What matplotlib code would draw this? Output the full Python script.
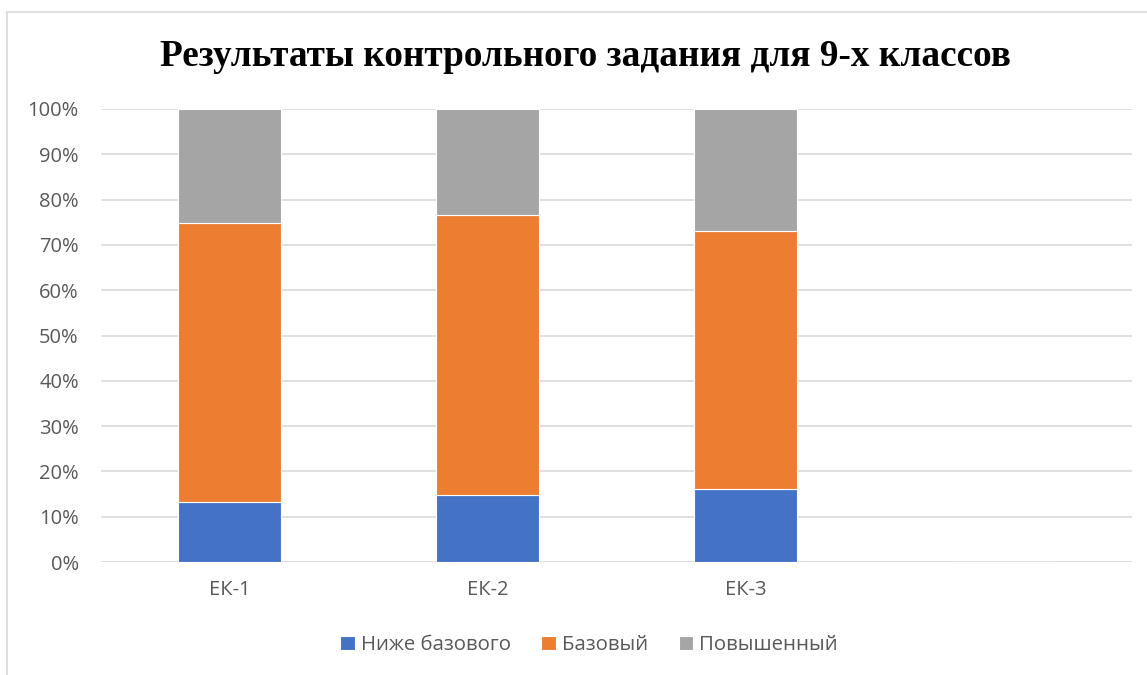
import numpy as np
import matplotlib
matplotlib.use("Agg")
import matplotlib.pyplot as plt
from matplotlib.patches import Rectangle

categories = ["ЕК-1", "ЕК-2", "ЕК-3", ""]
below_basic = [13.3, 14.8, 16.1, 0]
basic = [61.6, 61.8, 57.0, 0]
advanced = [25.1, 23.4, 26.9, 0]
series_names = ["Ниже базового", "Базовый", "Повышенный"]
colors = ["#4472C4", "#ED7D31", "#A5A5A5"]

plt.rcParams["font.family"] = ["Open Sans", "DejaVu Sans"]

fig = plt.figure(figsize=(11.47, 6.75), dpi=100)
ax = fig.add_axes([101 / 1147, 1 - 562 / 675, 1031 / 1147, 453 / 675])

x = np.arange(len(categories))
bottom = np.zeros(len(categories))
for vals, name, col in zip([below_basic, basic, advanced], series_names, colors):
    ax.bar(x, vals, bottom=bottom, width=0.4, color=col, label=name,
           edgecolor="white", linewidth=0.8, zorder=3)
    bottom += np.array(vals)

ax.set_xlim(-0.5, len(categories) - 0.5)
ax.set_ylim(0, 100)
ax.set_yticks(np.arange(0, 101, 10))
ax.set_yticklabels([f"{v}%" for v in range(0, 101, 10)])
ax.set_xticks(x)
ax.set_xticklabels(categories)
ax.grid(axis="y", color="#D9D9D9", linewidth=1.2, zorder=0)
for s in ax.spines.values():
    s.set_visible(False)
ax.tick_params(axis="both", length=0, labelsize=14.5, labelcolor="#595959")
ax.tick_params(axis="y", pad=16)
ax.tick_params(axis="x", pad=13)

fig.text(585 / 1147, 1 - 57 / 675, "Результаты контрольного задания для 9-х классов",
         ha="center", va="center", fontsize=26.8, fontweight="bold",
         family=["Liberation Serif", "DejaVu Serif"], color="black")

fig.legend(loc="center", bbox_to_anchor=(589 / 1147, 1 - 645 / 675), ncol=3,
           frameon=False, fontsize=14.7, handlelength=0.7, handleheight=0.7,
           handletextpad=0.3, columnspacing=1.5, labelcolor="#595959")

fig.patches.append(Rectangle((7 / 1147, -0.05), 1.2, 1 - 12 / 675 + 0.05,
                             transform=fig.transFigure, fill=False,
                             edgecolor="#D9D9D9", linewidth=1.2))

fig.savefig("out.png", dpi=100)
